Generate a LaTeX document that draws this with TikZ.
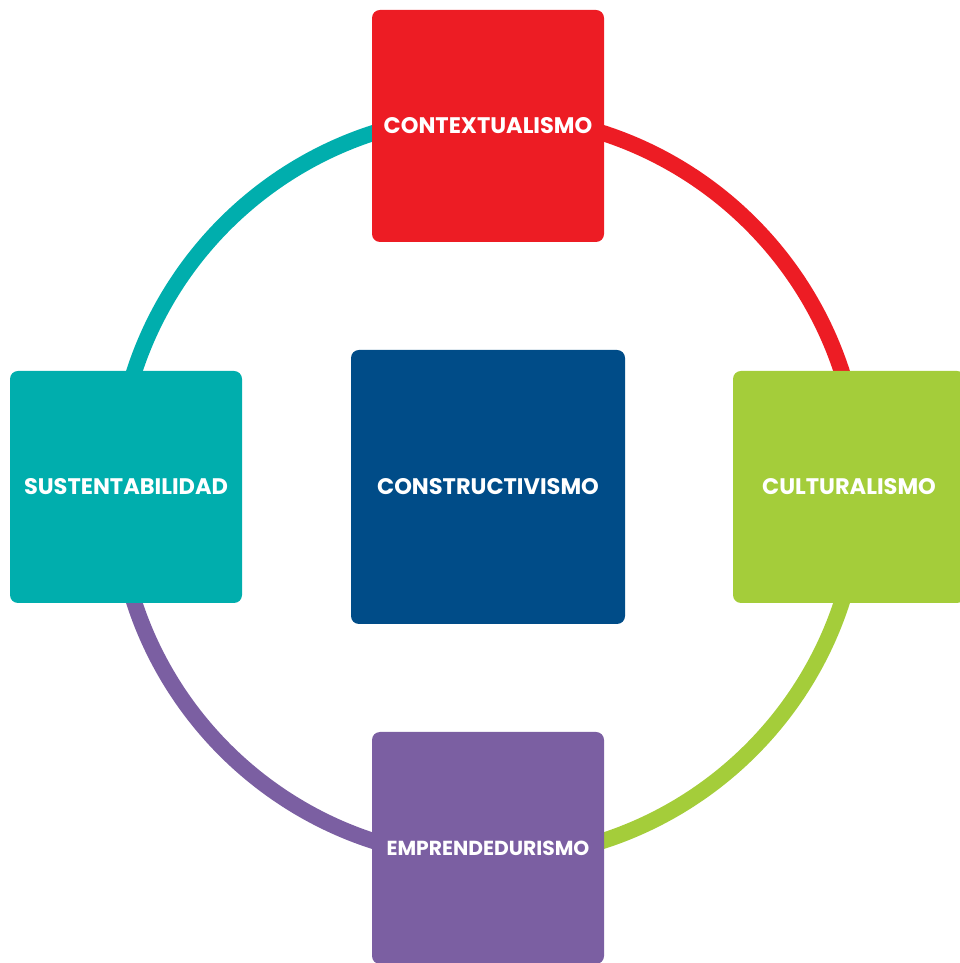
\documentclass[tikz,border=0pt]{standalone}
\usepackage{fontspec}
\setmainfont{Poppins}
\usetikzlibrary{positioning,backgrounds}
\definecolor{ctxred}{HTML}{ED1C24}
\definecolor{sustteal}{HTML}{00AEAD}
\definecolor{cultgreen}{HTML}{A4CD3A}
\definecolor{emppurple}{HTML}{7B5FA2}
\definecolor{consnavy}{HTML}{004C88}
\tikzset{
  pillar/.style={rounded corners=8pt,minimum width=232pt,minimum height=232pt,
    text=white,font=\bfseries\fontsize{22.5}{22.5}\selectfont,inner sep=0pt},
  ring/.style={line width=16pt}
}
\begin{document}
\begin{tikzpicture}[x=1pt,y=1pt]
  \useasboundingbox (0,0) rectangle (959,963);
  \node[pillar,fill=consnavy,minimum width=274pt,minimum height=274pt] (cons) at (488,476) {CONSTRUCTIVISMO};
  \node[pillar,fill=ctxred] (ctx) at (488,837) {CONTEXTUALISMO};
  \node[pillar,fill=sustteal] (sust) at (126,476) {SUSTENTABILIDAD};
  \node[pillar,fill=cultgreen] (cult) at (849,476) {CULTURALISMO};
  \node[pillar,fill=emppurple,font=\bfseries\fontsize{20.3}{20.3}\selectfont] (emp) at (488,115) {EMPRENDEDURISMO};
  \begin{scope}[on background layer]
    \draw[ring,ctxred] (cons.center) ++(90:372) arc[start angle=90,end angle=0,radius=372];
    \draw[ring,cultgreen] (cons.center) ++(0:372) arc[start angle=0,end angle=-90,radius=372];
    \draw[ring,emppurple] (cons.center) ++(-90:372) arc[start angle=-90,end angle=-180,radius=372];
    \draw[ring,sustteal] (cons.center) ++(180:372) arc[start angle=180,end angle=90,radius=372];
  \end{scope}
\end{tikzpicture}
\end{document}
